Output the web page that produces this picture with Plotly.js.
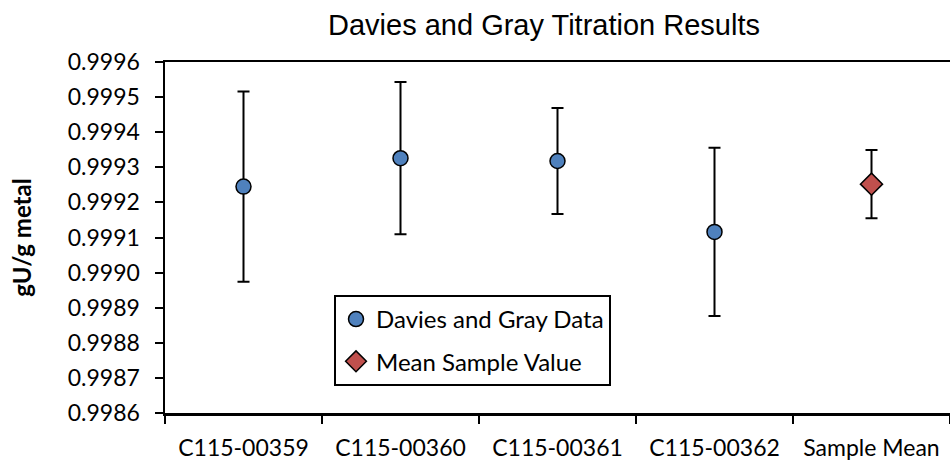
<!DOCTYPE html>
<html>
<head>
<meta charset="utf-8">
<script src="https://cdn.plot.ly/plotly-3.0.1.min.js"></script>
<style>html,body{margin:0;padding:0;background:#fff;}#chart{width:950px;height:464px;}</style>
</head>
<body>
<div id="chart"></div>
<script>
// Data
const categories = ["C115-00359", "C115-00360", "C115-00361", "C115-00362", "Sample Mean"];
const dgCategories = ["C115-00359", "C115-00360", "C115-00361", "C115-00362"];
const dgValues = [0.999245, 0.999326, 0.999318, 0.999116];
const dgErrors = [0.000271, 0.000217, 0.000151, 0.000240];
const meanCategories = ["Sample Mean"];
const meanValues = [0.999252];
const meanErrors = [0.000097];
const yTickVals = [0.9986, 0.9987, 0.9988, 0.9989, 0.9990, 0.9991, 0.9992, 0.9993, 0.9994, 0.9995, 0.9996];

const tickFont = {family: "Lato, 'Open Sans', sans-serif", size: 23, color: "#000"};

const traces = [
  {
    type: "scatter", mode: "markers", name: "Davies and Gray Data",
    x: dgCategories, y: dgValues, legendgroup: "a",
    marker: {symbol: "circle", size: 15, color: "#4F81BD", line: {color: "#000", width: 1.5}},
    error_y: {type: "data", array: dgErrors, visible: true, color: "#000", thickness: 2, width: 6}
  },
  {
    type: "scatter", mode: "markers", name: "Mean Sample Value",
    x: meanCategories, y: meanValues, legendgroup: "b",
    marker: {symbol: "diamond", size: 17, color: "#C0504D", line: {color: "#000", width: 1.5}},
    error_y: {type: "data", array: meanErrors, visible: true, color: "#000", thickness: 2, width: 6}
  }
];

const layout = {
  width: 950, height: 464,
  margin: {l: 165, r: 0, t: 62, b: 51},
  paper_bgcolor: "#fff", plot_bgcolor: "#fff",
  title: {
    text: "Davies and Gray Titration Results",
    font: {family: "'Liberation Sans', Arial, sans-serif", size: 29, color: "#000"},
    xref: "container", x: 0.5726, xanchor: "center",
    yref: "container", y: 0.946, yanchor: "middle"
  },
  xaxis: {
    type: "category", categoryorder: "array", categoryarray: categories,
    range: [-0.5, 4.5],
    showline: true, linecolor: "#000", linewidth: 2.5, mirror: true,
    ticks: "outside", tickson: "boundaries", ticklen: 8, tickwidth: 2, tickcolor: "#000",
    showgrid: false, zeroline: false,
    tickfont: tickFont, ticklabelstandoff: 13, fixedrange: true
  },
  yaxis: {
    range: [0.9986, 0.9996], tickvals: yTickVals, tickformat: ".4f",
    showline: true, linecolor: "#000", linewidth: 2.5,
    ticks: "outside", ticklen: 8, tickwidth: 2, tickcolor: "#000",
    showgrid: false, zeroline: false,
    tickfont: tickFont, ticklabelstandoff: 10,
    title: {text: "<b>gU/g metal</b>", font: {family: "Lato, 'Open Sans', sans-serif", size: 24, color: "#000"}, standoff: 30},
    fixedrange: true
  },
  showlegend: true,
  legend: {
    x: 0.2153, xanchor: "left", y: 0.3362, yanchor: "top",
    bordercolor: "#000", borderwidth: 2, bgcolor: "#fff",
    font: {family: "Lato, 'Open Sans', sans-serif", size: 24, color: "#000"},
    traceorder: "grouped", tracegroupgap: 8
  }
};

Plotly.newPlot("chart", traces, layout, {displayModeBar: false, staticPlot: true});
</script>
</body>
</html>
